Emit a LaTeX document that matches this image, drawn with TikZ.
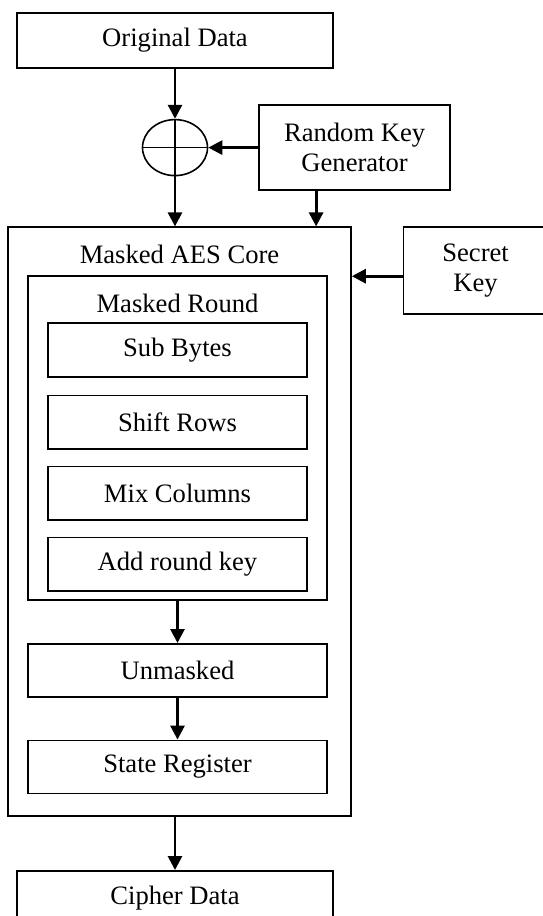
\documentclass[tikz,border=0pt]{standalone}
\usepackage{fontspec}
\setmainfont{Liberation Serif}
\usetikzlibrary{arrows.meta,positioning,shapes.geometric,calc}

\begin{document}
\begin{tikzpicture}[
    font=\fontsize{13.3}{15}\selectfont,
    box/.style={draw, line width=0.8pt, align=center, inner sep=0pt},
    wide/.style={box, minimum width=158pt, minimum height=27.5pt},
    inner/.style={box, minimum width=149.5pt, minimum height=26.5pt},
    stage/.style={box, minimum width=129.5pt, minimum height=26.75pt},
    flow/.style={line width=1.4pt, -{Triangle[length=7pt,width=7pt]}}
  ]
  \useasboundingbox (0,0) rectangle (271pt,-458pt);
  \node[wide] (odata) at (87.5pt,-20.25pt) {Original Data};
  \node[draw, line width=0.8pt, ellipse, minimum width=32.5pt, minimum height=28pt, inner sep=0pt, below=25pt of odata] (xor) {};
  \node[box, minimum width=95.5pt, minimum height=42.5pt, right=25pt of xor] (rkg) {Random Key\\Generator};
  \node[box, minimum width=171.5pt, minimum height=294.5pt, below=25pt of xor, xshift=2.25pt,
        label={[anchor=center, yshift=-14pt]north:Masked AES Core}] (core) {};
  \node[box, minimum width=72pt, minimum height=43.5pt, below right=0pt and 25.5pt of core.north east] (skey) {Secret\\Key};
  % masked round with its four stages
  \node[box, minimum width=149.5pt, minimum height=162pt, below=24.5pt of core.north, xshift=-1pt,
        label={[anchor=center, yshift=-13.9pt]north:Masked Round}] (round) {};
  \node[stage, below=23.5pt of round.north] (subb) {Sub Bytes};
  \node[stage, below=8.5pt of subb] (shiftr) {Shift Rows};
  \node[stage, below=8pt of shiftr] (mixc) {Mix Columns};
  \node[stage, below=8pt of mixc] (addrk) {Add round key};
  \node[inner, below=21pt of round] (unmask) {Unmasked};
  \node[inner, below=21pt of unmask] (sreg) {State Register};
  \node[wide, below=26.5pt of core, xshift=-2.25pt] (cipher) {Cipher Data};

  \draw[line width=0.7pt] (xor.north) -- (xor.south) (xor.west) -- (xor.east);
  \draw[flow] (odata.south) -- (xor.north);
  \draw[flow] (rkg) -- (xor);
  \draw[flow] (xor.south) -- (xor.south |- core.north);
  \draw[flow] ([xshift=-19.25pt]rkg.south) -- ([xshift=-19.25pt]rkg.south |- core.north);
  \draw[flow] ([yshift=-2.75pt]skey.west) -- ([yshift=-2.75pt]skey.west -| core.east);
  \draw[flow] (round) -- (unmask);
  \draw[flow] (unmask) -- (sreg);
  \draw[flow] (cipher.north |- core.south) -- (cipher.north);
\end{tikzpicture}
\end{document}
